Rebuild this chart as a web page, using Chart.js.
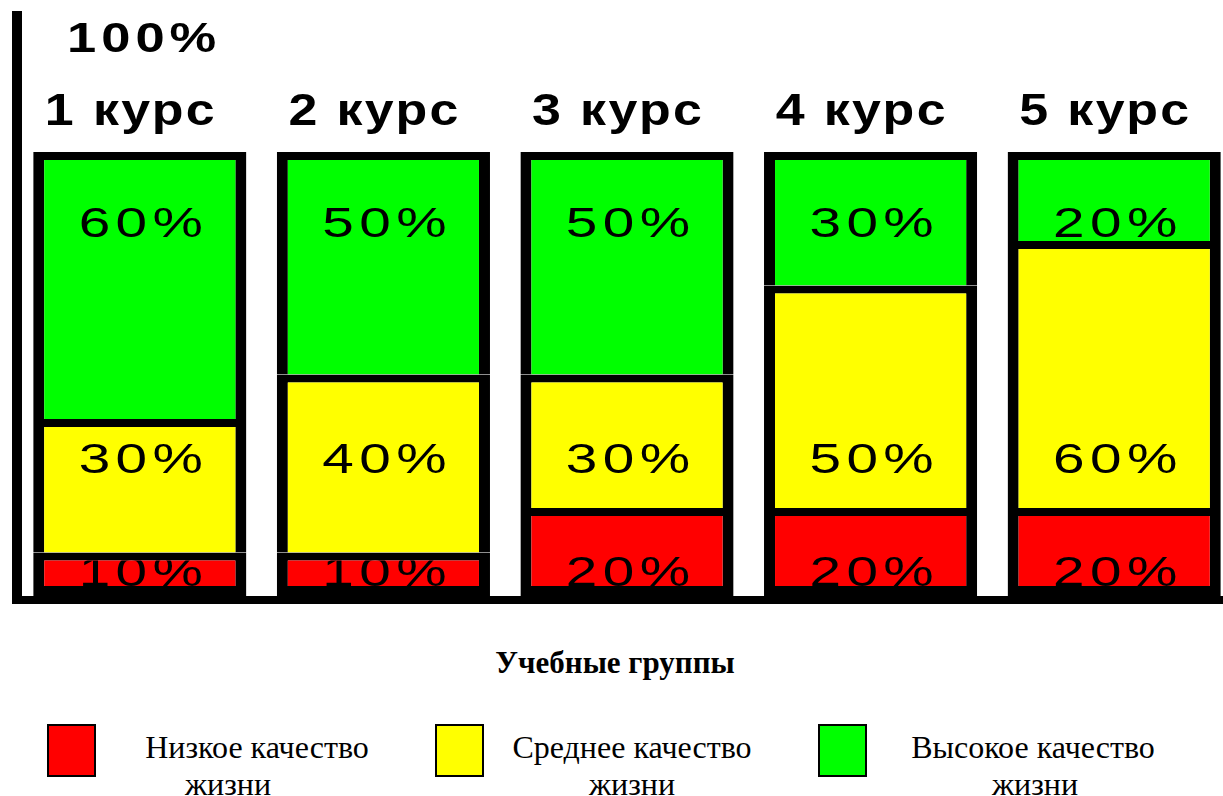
<!DOCTYPE html>
<html>
<head>
<meta charset="utf-8">
<script src="https://cdn.jsdelivr.net/npm/chart.js@4.4.0/dist/chart.umd.min.js"></script>
<style>
    html, body { margin: 0; padding: 0; background: #fff; overflow: hidden; }
    #wrap { position: relative; width: 1223px; height: 796px; overflow: hidden; }
    #chartBox { position: absolute; left: 0; top: 0; width: 1240px; height: 612px; }
    #axisTitle {
        position: absolute; left: 0; width: 1230px; top: 643px; text-align: center;
        font: bold 31px "Liberation Serif", "Times New Roman", serif; line-height: 40px;
    }
    .swatch { position: absolute; top: 724px; width: 45px; height: 49px; border: 2px solid #000; }
    .ltext {
        position: absolute; width: 400px; text-align: center; white-space: nowrap;
        font: 32px "Liberation Serif", "Times New Roman", serif; line-height: 40px;
    }
</style>
</head>
<body>
<div id="wrap">
    <div id="chartBox"><canvas id="groups_chart"></canvas></div>
    <div id="axisTitle"></div>
    <div id="legend"></div>
</div>
<script>
// data
var categories = ['1 курс', '2 курс', '3 курс', '4 курс', '5 курс'];
var lowValues = [10, 10, 20, 20, 20];
var midValues = [30, 40, 30, 50, 60];
var highValues = [60, 50, 50, 30, 20];
var seriesNames = ['Низкое качество жизни', 'Среднее качество жизни', 'Высокое качество жизни'];
var seriesColors = ['#ff0000', '#ffff00', '#00ff00'];
var topLabel = '100%';
var xTitle = 'Учебные группы';

// value rows where the percent labels sit (low, mid, high)
var labelRows = [5, 30.5, 83.5];

// draws text stretched horizontally, centred or left aligned at x
function wideText(ctx, text, x, y, stretch, spacing, align) {
    ctx.save();
    ctx.translate(x, y);
    ctx.scale(stretch, 1);
    ctx.letterSpacing = spacing + 'px';
    ctx.textAlign = align;
    ctx.fillText(text, align === 'center' ? spacing / 2 : 0, 0);
    ctx.restore();
}

var barText = {
    id: 'barText',
    afterDatasetsDraw: function(chart) {
        var ctx = chart.ctx;
        var area = chart.chartArea;
        var xs = chart.scales.x;
        var ys = chart.scales.y;
        ctx.save();
        // axis lines
        ctx.fillStyle = '#000';
        ctx.fillRect(area.left - 6, 11, 10, area.bottom + 7 - 11);
        ctx.fillRect(area.left - 6, area.bottom - 1, 1240, 8);

        // percent labels, clipped to the inside of each segment
        ctx.font = '42px "Liberation Sans", Arial';
        ctx.textBaseline = 'middle';
        chart.data.datasets.forEach(function(ds, i) {
            var meta = chart.getDatasetMeta(i);
            meta.data.forEach(function(bar, j) {
                var p = bar.getProps(['x', 'y', 'base', 'width'], true);
                var top = Math.min(p.y, p.base) + 8;
                var bottom = Math.max(p.y, p.base) - (i === 0 ? 11 : 0);
                ctx.save();
                ctx.beginPath();
                ctx.rect(p.x - p.width / 2 + 11, top, p.width - 22, bottom - top);
                ctx.clip();
                ctx.fillStyle = '#000';
                wideText(ctx, ds.data[j] + '%', p.x + 1, ys.getPixelForValue(labelRows[i]), 1.35, 4, 'center');
                ctx.restore();
            });
        });

        // course names above bars
        ctx.font = 'bold 44px "Liberation Sans", Arial';
        ctx.textBaseline = 'alphabetic';
        ctx.fillStyle = '#000';
        chart.data.labels.forEach(function(lab, j) {
            wideText(ctx, lab, xs.getPixelForValue(j) - 10, area.top - 27, 1.18, 2, 'center');
        });

        // 100% mark
        ctx.font = 'bold 42px "Liberation Sans", Arial';
        wideText(ctx, topLabel, area.left + 49, area.top - 100, 1.25, 4, 'left');
        ctx.restore();
    }
};

var datasets = [lowValues, midValues, highValues].map(function(vals, i) {
    return {
        label: seriesNames[i],
        data: vals,
        backgroundColor: seriesColors[i],
        borderColor: '#000',
        borderWidth: { top: 8, left: 11, right: 11, bottom: 11 },
        borderSkipped: i === 0 ? false : 'start',
        inflateAmount: 0,
        barPercentage: 0.875,
        categoryPercentage: 1
    };
});

var chart1 = new Chart(document.getElementById('groups_chart'), {
    type: 'bar',
    data: {
        labels: categories,
        datasets: datasets
    },
    options: {
        responsive: true,
        maintainAspectRatio: false,
        animation: false,
        devicePixelRatio: 1,
        layout: { padding: { left: 18, right: 4, top: 152, bottom: 15 } },
        scales: {
            x: { stacked: true, display: false },
            y: { stacked: true, display: false, min: 0, max: 100 }
        },
        plugins: {
            legend: { display: false },
            tooltip: { enabled: false }
        }
    },
    plugins: [barText]
});

// title and legend below the chart
document.getElementById('axisTitle').textContent = xTitle;

var swatchLeft = [47, 435, 818];
var line1Center = [257, 632, 1033];
var line2Center = [228, 632, 1035];
var legend = document.getElementById('legend');
seriesNames.forEach(function(name, i) {
    var sw = document.createElement('div');
    sw.className = 'swatch';
    sw.style.left = swatchLeft[i] + 'px';
    sw.style.background = seriesColors[i];
    legend.appendChild(sw);

    var words = name.split(' ');
    var l1 = document.createElement('div');
    l1.className = 'ltext';
    l1.textContent = words.slice(0, 2).join(' ');
    l1.style.left = (line1Center[i] - 200) + 'px';
    l1.style.top = '727px';
    legend.appendChild(l1);

    var l2 = document.createElement('div');
    l2.className = 'ltext';
    l2.textContent = words[2];
    l2.style.left = (line2Center[i] - 200) + 'px';
    l2.style.top = '764px';
    legend.appendChild(l2);
});
</script>
</body>
</html>
